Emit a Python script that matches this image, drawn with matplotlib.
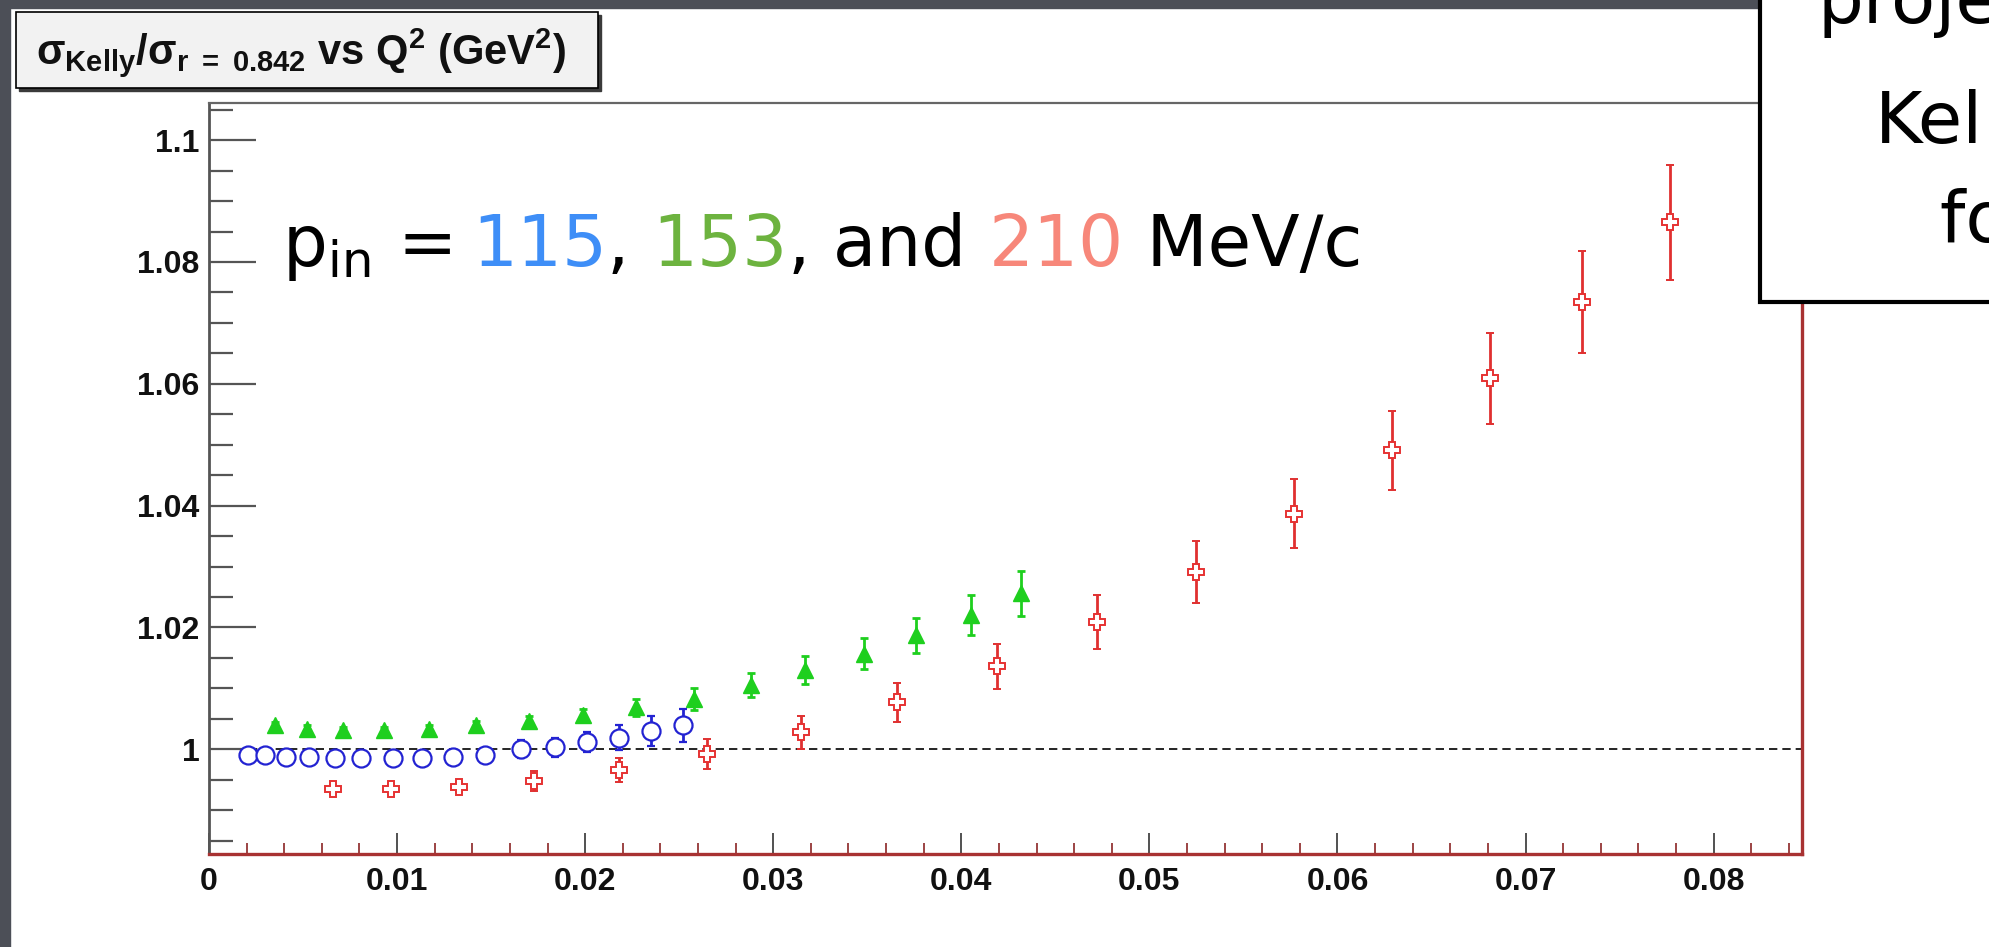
import matplotlib
matplotlib.use('Agg')
import matplotlib.pyplot as plt
from matplotlib.patches import Rectangle
from matplotlib.ticker import MultipleLocator, FuncFormatter

# Q^2 (GeV^2), ratio sigma_Kelly / sigma_(r=0.842) and errors, per beam momentum
q2_115 = [0.0021, 0.0030, 0.0041, 0.0053, 0.0067, 0.0081, 0.0098, 0.0113,
          0.0130, 0.0147, 0.0166, 0.0184, 0.0201, 0.0218, 0.0235, 0.0252]
ratio_115 = [0.9990, 0.9990, 0.9987, 0.9987, 0.9985, 0.9985, 0.9985, 0.9986,
             0.9987, 0.9990, 1.0000, 1.0003, 1.0012, 1.0019, 1.0030, 1.0039]
err_115 = [0.0006, 0.0006, 0.0007, 0.0007, 0.0008, 0.0008, 0.0009, 0.0009,
           0.0010, 0.0011, 0.0015, 0.0016, 0.0017, 0.0021, 0.0024, 0.0027]

q2_153 = [0.0035, 0.0052, 0.0071, 0.0093, 0.0117, 0.0142, 0.0170, 0.0199,
          0.0227, 0.0258, 0.0288, 0.0317, 0.0348, 0.0376, 0.0405, 0.0432]
ratio_153 = [1.0039, 1.0034, 1.0032, 1.0031, 1.0034, 1.0039, 1.0046, 1.0056,
             1.0069, 1.0083, 1.0105, 1.0130, 1.0157, 1.0187, 1.0220, 1.0256]
err_153 = [0.0005, 0.0005, 0.0005, 0.0006, 0.0006, 0.0007, 0.0008, 0.0010,
           0.0014, 0.0018, 0.0020, 0.0023, 0.0026, 0.0029, 0.0033, 0.0037]

q2_210 = [0.0066, 0.0097, 0.0133, 0.0173, 0.0218, 0.0265, 0.0315, 0.0366,
          0.0419, 0.0472, 0.0525, 0.0577, 0.0629, 0.0681, 0.0730, 0.0777]
ratio_210 = [0.9935, 0.9935, 0.9938, 0.9948, 0.9966, 0.9992, 1.0028, 1.0077,
             1.0136, 1.0209, 1.0291, 1.0387, 1.0491, 1.0609, 1.0734, 1.0865]
err_210 = [0.0008, 0.0008, 0.0009, 0.0016, 0.0019, 0.0024, 0.0027, 0.0032,
           0.0037, 0.0044, 0.0051, 0.0057, 0.0065, 0.0075, 0.0084, 0.0095]

W, H = 1989, 947

plt.rcParams['font.family'] = ['Liberation Sans', 'DejaVu Sans']
plt.rcParams['font.weight'] = 'bold'
plt.rcParams['mathtext.fontset'] = 'custom'
plt.rcParams['mathtext.rm'] = 'Liberation Sans:bold'
plt.rcParams['mathtext.bf'] = 'Liberation Sans:bold'
plt.rcParams['mathtext.it'] = 'Liberation Sans:bold:italic'
plt.rcParams['mathtext.sf'] = 'Liberation Sans'


def text_width(fig, renderer, s, **kw):
    t = fig.text(0, 0, s, **kw)
    w = t.get_window_extent(renderer).width
    t.remove()
    return w


def colored_text(fig, x, y, chunks, **kw):
    # lay chunks of different colour one after another on a line
    renderer = fig.canvas.get_renderer()
    bar = text_width(fig, renderer, '|', **kw)
    prefix = ''
    for s, c in chunks:
        dx = text_width(fig, renderer, prefix + '|', **kw) - bar if prefix else 0
        fig.text(x + dx / W, y, s, color=c, **kw)
        prefix += s


fig = plt.figure(figsize=(W / 100, H / 100), dpi=100, facecolor='white')
ax = fig.add_axes([209 / W, 1 - 854 / H, (1802 - 209) / W, (854 - 103) / H])

ax.axhline(1.0, color='black', lw=1.2, ls=(0, (5, 3)), zorder=1)

ax.errorbar(q2_210, ratio_210, yerr=err_210, fmt='P', ms=12, mfc='white',
            mec='#e63232', mew=1.4, ecolor='#e03030', elinewidth=2,
            capsize=3, capthick=2, zorder=3)
ax.errorbar(q2_153, ratio_153, yerr=err_153, fmt='^', ms=11, mfc='#1ecf1e',
            mec='#1ecf1e', ecolor='#1ecf1e', elinewidth=2,
            capsize=3, capthick=2, zorder=3)
ax.errorbar(q2_115, ratio_115, yerr=err_115, fmt='o', ms=13, mfc='white',
            mec='#2323d2', mew=1.6, ecolor='#2323d2', elinewidth=2,
            capsize=3, capthick=2, zorder=4)

ax.set_xlim(0, 0.0847)
ax.set_ylim(0.9828, 1.1061)
ax.xaxis.set_major_locator(MultipleLocator(0.01))
ax.xaxis.set_minor_locator(MultipleLocator(0.002))
ax.yaxis.set_major_locator(MultipleLocator(0.02))
ax.yaxis.set_minor_locator(MultipleLocator(0.005))
fmt = FuncFormatter(lambda v, p: '%g' % round(v, 4))
ax.xaxis.set_major_formatter(fmt)
ax.yaxis.set_major_formatter(fmt)

ax.tick_params(axis='y', which='major', direction='in', length=34, width=1.6,
               color='#555555', labelsize=23, pad=7, right=False,
               labelcolor='#111111')
ax.tick_params(axis='y', which='minor', direction='in', length=17, width=1.6,
               color='#555555', right=False)
ax.tick_params(axis='x', which='major', direction='in', length=15, width=1.2,
               color='#333333', labelsize=23, pad=9, top=False,
               labelcolor='#111111')
ax.tick_params(axis='x', which='minor', direction='in', length=8, width=1.2,
               color='#8b2525', top=False)

ax.spines['left'].set_color('#555555')
ax.spines['left'].set_linewidth(2)
ax.spines['top'].set_color('#666666')
ax.spines['top'].set_linewidth(1.6)
ax.spines['bottom'].set_color('#a83232')
ax.spines['bottom'].set_linewidth(2.4)
ax.spines['right'].set_color('#a83232')
ax.spines['right'].set_linewidth(2.4)

# slide background strips along the top and left edges
fig.patches.append(Rectangle((0, 1 - 8 / H), 1, 8 / H, transform=fig.transFigure,
                             color='#4c4f57', zorder=5))
fig.patches.append(Rectangle((0, 0), 10 / W, 1, transform=fig.transFigure,
                             color='#4c4f57', zorder=5))

# histogram title box
fig.patches.append(Rectangle((19 / W, 1 - 91 / H), 582 / W, 76 / H,
                             transform=fig.transFigure, color='#3a3a3a', zorder=5))
fig.patches.append(Rectangle((16 / W, 1 - 88 / H), 582 / W, 76 / H,
                             transform=fig.transFigure, fc='#f2f2f2', ec='black',
                             lw=1.2, zorder=6))
fig.text(36 / W, 1 - 52 / H,
         r'$\mathsf{\sigma}_{\mathrm{Kelly}}/\mathsf{\sigma}_{\mathrm{r\ =\ 0.842}}$'
         r' vs Q$^{\mathrm{2}}$ (GeV$^{\mathrm{2}}$)',
         fontsize=30, va='center', ha='left', color='#111111', zorder=7)

# momentum annotation
colored_text(fig, 282 / W, 1 - 266 / H,
             [(r'p$_{\mathregular{in}}$ = ', 'black'), ('115', '#3e8ef7'),
              (', ', 'black'), ('153', '#6db33f'), (', and ', 'black'),
              ('210', '#f7877a'), (' MeV/c', 'black')],
             fontsize=51, family='DejaVu Sans', fontweight='normal',
             va='baseline', zorder=7)

# slide text box at the top right, cut by the slide edge
fig.patches.append(Rectangle((1760 / W, 1 - 302 / H), 300 / W, 320 / H,
                             transform=fig.transFigure, fc='white', ec='black',
                             lw=3, zorder=8))
box_kw = dict(fontsize=52, family='DejaVu Sans', fontweight='normal',
              va='baseline', ha='left', color='black', zorder=9)
fig.text(1818 / W, 1 - 23 / H, 'projected', **box_kw)
fig.text(1875 / W, 1 - 143 / H, 'Kelly', **box_kw)
fig.text(1940 / W, 1 - 242 / H, 'form factor', **box_kw)

fig.savefig('out.png', dpi=100, facecolor='white')
